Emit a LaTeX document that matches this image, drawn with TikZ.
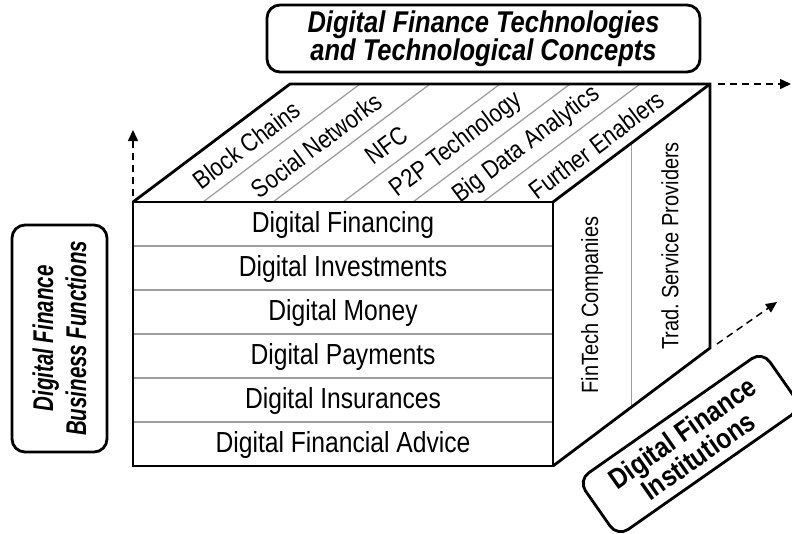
\documentclass[tikz,border=0pt]{standalone}
\usepackage{fontspec}
\setmainfont{Liberation Sans}[FakeStretch=0.85]
\newfontfamily\narrowsf{Liberation Sans}[FakeStretch=0.72]
\usetikzlibrary{arrows.meta}

\begin{document}
\begin{tikzpicture}[x=1pt,y=-1pt,
	cubeline/.style={line width=2.8pt, line join=miter},
	sepline/.style={line width=1.3pt, gray!75},
	axis/.style={line width=1.5pt, dash pattern=on 7pt off 5pt, -{Triangle[length=11pt,width=10pt]}},
	cell/.style={font=\fontsize{29}{32}\selectfont},
	topcell/.style={font=\fontsize{25.5}{30}\selectfont},
	sidecell/.style={font=\fontsize{23.5}{28}\selectfont},
	title/.style={draw, line width=2.8pt, rounded corners=13pt, align=center, inner sep=0pt, font=\fontsize{28.5}{28}\selectfont\bfseries}]
	\useasboundingbox (0,0) rectangle (792,533);

	\coordinate (fa) at (133,202);
	\coordinate (fb) at (553,202);
	\coordinate (fc) at (553,466);
	\coordinate (fd) at (133,466);
	\coordinate (ba) at (290,84);
	\coordinate (bb) at (710,84);
	\coordinate (bc) at (710,348);

	\foreach \i in {1,...,5} {
		\draw[sepline] (133,202+44*\i) -- (553,202+44*\i);
		\draw[sepline] (133+70*\i,202) -- (290+70*\i,84);
	}
	\draw[sepline] (631.5,143) -- (631.5,407);

	\draw[cubeline] (fa) -- (fb) -- (fc) -- (fd) -- cycle;
	\draw[cubeline] (fa) -- (ba) -- (bb) -- (bc) -- (fc);
	\draw[cubeline] (fb) -- (bb);

	\foreach \t [count=\i] in {Digital Financing, Digital Investments, Digital Money, Digital Payments, Digital Insurances, Digital Financial Advice}
		\node (func\i) at (343,181+44*\i) [cell] {\t};

	\foreach \t [count=\i] in {Block Chains, Social Networks, NFC, P2P Technology, Big Data Analytics, Further Enablers}
		\node (tech\i) at (176.5+70*\i,145) [topcell, rotate=37] {\t};

	\node (fintech) at (592,305) [sidecell, rotate=90] {FinTech Companies};
	\node (trad) at (670,246) [sidecell, rotate=90] {Trad.\ Service Providers};

	\node (techbox) at (483.5,38.5) [title, minimum width=433pt, minimum height=67pt, font=\fontsize{30}{28}\selectfont\bfseries\itshape] {Digital Finance Technologies\\and Technological Concepts};
	\node (funcbox) at (59.5,338.5) [title, rotate=90, minimum width=227pt, minimum height=95pt, font=\fontsize{28.5}{33}\selectfont\narrowsf\bfseries\itshape] {Digital Finance\\Business Functions};
	\node (instbox) at (690,444) [title, rotate=35, minimum width=225pt, minimum height=69pt] {Digital Finance\\Institutions};

	\coordinate (upfrom) at (133,196);
	\coordinate (upto) at (133,130);
	\coordinate (rightfrom) at (718,84);
	\coordinate (rightto) at (791,84);
	\coordinate (diagfrom) at (717,344);
	\coordinate (diagto) at (777,302);
	\draw[axis] (upfrom) -- (upto);
	\draw[axis] (rightfrom) -- (rightto);
	\draw[axis] (diagfrom) -- (diagto);
\end{tikzpicture}
\end{document}
